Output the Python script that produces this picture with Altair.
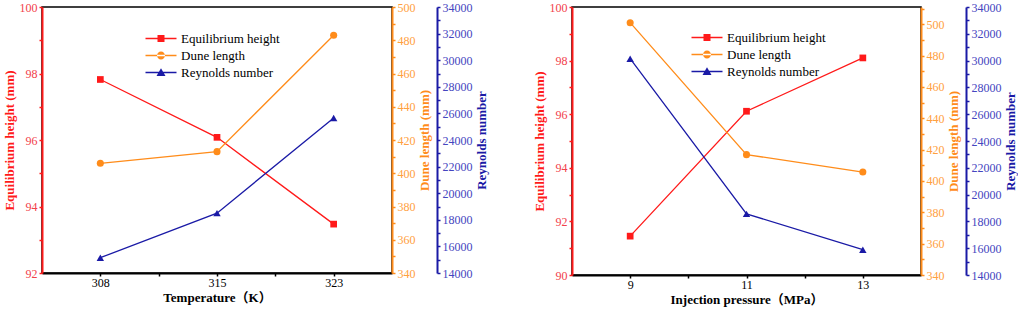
import json
import altair as alt
import pandas as pd

# ---- data ----
series = ["Equilibrium height", "Dune length", "Reynolds number"]

temps = ["308", "315", "323"]
eq_temp = [97.82, 96.08, 93.47]
dune_temp = [406, 413, 483]
re_temp = [15150, 18500, 25660]

pressures = ["9", "11", "13"]
eq_pres = [91.45, 96.11, 98.10]
dune_pres = [501, 416.8, 405.7]
re_pres = [30140, 18560, 15890]

# ---- styling ----
colors = ["#ff1a1a", "#ff8c1a", "#1a1aa6"]
label_colors = ["#f2404a", "#ffa040", "#4545c0"]
FONT = "Liberation Serif, 'Noto Sans CJK SC', serif"

# legend symbols: line with marker in the middle (SVG paths, 1 unit = 5 px)
LINE = "M-1,-0.13L5.2,-0.13L5.2,0.13L-1,0.13Z "
legend_paths = [
    LINE + "M1.4,-0.7L2.8,-0.7L2.8,0.7L1.4,0.7Z",
    LINE + "M1.3,0A0.8,0.8 0 1,0 2.9,0A0.8,0.8 0 1,0 1.3,0Z",
    LINE + "M2.1,-0.85L3.0,0.7L1.2,0.7Z",
]


def y_axis(color, lcolor, title, values, step, orient, offset=0):
    kw = dict(
        orient=orient,
        values=values,
        labelExpr=f"datum.value % {step} == 0 ? '' + datum.value : ''",
        title=title,
        domainColor=color,
        domainWidth=2,
        tickColor=color,
        tickWidth=1.5,
        tickSize=3,
        labelColor=lcolor,
        labelFont=FONT,
        labelFontSize=12,
        labelPadding=2,
        titleColor=color,
        titleFont=FONT,
        titleFontSize=13,
        titleFontWeight="bold",
        titlePadding=3,
        grid=False,
    )
    if orient == "right":
        kw["titleAngle"] = 270
        kw["titleBaseline"] = "top"
    if offset:
        kw["offset"] = offset
    return alt.Axis(**kw)


def panel(cats, eq, dune, rey, xtitle, eq_dom, dune_dom, re_dom, lx, ly, w, h):
    n = len(cats)
    df = pd.DataFrame({"idx": list(range(n)), "cat": cats, "eq": eq, "dune": dune, "re": rey})
    base = alt.Chart(df)
    tick_vals = [i * 0.5 for i in range(2 * n - 1)]
    x_axis = alt.Axis(
        values=tick_vals,
        labelExpr=f"datum.value % 1 == 0 ? {json.dumps(cats)}[datum.value] : ''",
        title=xtitle,
        domainColor="black",
        domainWidth=2,
        tickColor="black",
        tickWidth=1.5,
        tickSize=3,
        labelColor="black",
        labelFont=FONT,
        labelFontSize=12,
        labelPadding=1,
        labelFlush=False,
        titleFont=FONT,
        titleFontSize=13,
        titleFontWeight="bold",
        titleColor="black",
        titlePadding=3,
        grid=False,
    )
    x = alt.X("idx:Q", scale=alt.Scale(domain=[-0.5, n - 0.5], nice=False, zero=False), axis=x_axis)

    eq_vals = list(range(eq_dom[0], eq_dom[1] + 1))
    dune_vals = list(range(dune_dom[0], int(dune_dom[1]) + 1, 10))
    re_vals = list(range(re_dom[0], re_dom[1] + 1, 1000))

    specs = [
        ("eq", colors[0], "square", 45, eq_dom,
         y_axis(colors[0], label_colors[0], "Equilibrium height (mm)", eq_vals, 2, "left")),
        ("dune", colors[1], "circle", 50, dune_dom,
         y_axis(colors[1], label_colors[1], "Dune length (mm)", dune_vals, 20, "right")),
        ("re", colors[2], "triangle-up", 55, re_dom,
         y_axis(colors[2], label_colors[2], "Reynolds number", re_vals, 2000, "right", 45)),
    ]
    layers = []
    for field, col, shp, sz, dom, ax in specs:
        y = alt.Y(f"{field}:Q", scale=alt.Scale(domain=list(dom), nice=False, zero=False), axis=ax)
        line = base.mark_line(color=col, strokeWidth=1.3).encode(x=x, y=y)
        pts = base.mark_point(color=col, filled=True, shape=shp, size=sz, opacity=1).encode(x=x, y=y)
        layers.append(alt.layer(line, pts))

    leg = alt.Legend(
        title=None,
        orient="none",
        legendX=lx,
        legendY=ly,
        padding=0,
        labelFont=FONT,
        labelFontSize=13,
        labelColor="black",
        labelOffset=24,
        symbolSize=100,
        symbolStrokeWidth=0,
        symbolOpacity=1,
        rowPadding=3,
    )
    leg_df = pd.DataFrame({"series": series})
    legend_layer = alt.Chart(leg_df).mark_point(filled=True, opacity=0, size=100).encode(
        color=alt.Color("series:N", scale=alt.Scale(domain=series, range=colors), legend=leg),
        shape=alt.Shape("series:N", scale=alt.Scale(domain=series, range=legend_paths), legend=leg),
    )
    return alt.layer(*layers, legend_layer).resolve_scale(y="independent").properties(width=w, height=h)


left = panel(temps, eq_temp, dune_temp, re_temp, "Temperature（K）",
             (92, 100), (340, 500), (14000, 34000), 102, 25, 350, 266)
right = panel(pressures, eq_pres, dune_pres, re_pres, "Injection pressure（MPa）",
              (90, 100), (340, 511), (14000, 34000), 118, 24, 349, 268)

chart = (
    alt.hconcat(left, right, spacing=43)
    .resolve_scale(color="independent", shape="independent")
    .resolve_legend(color="independent", shape="independent")
    .properties(padding={"left": 2, "top": 0, "right": 0, "bottom": 0}, background="white")
    .configure(font=FONT)
    .configure_legend(labelFont=FONT)
    .configure_view(stroke="black", strokeWidth=1.5)
)

chart.save("out.html", embed_options={"renderer": "svg", "actions": False})
